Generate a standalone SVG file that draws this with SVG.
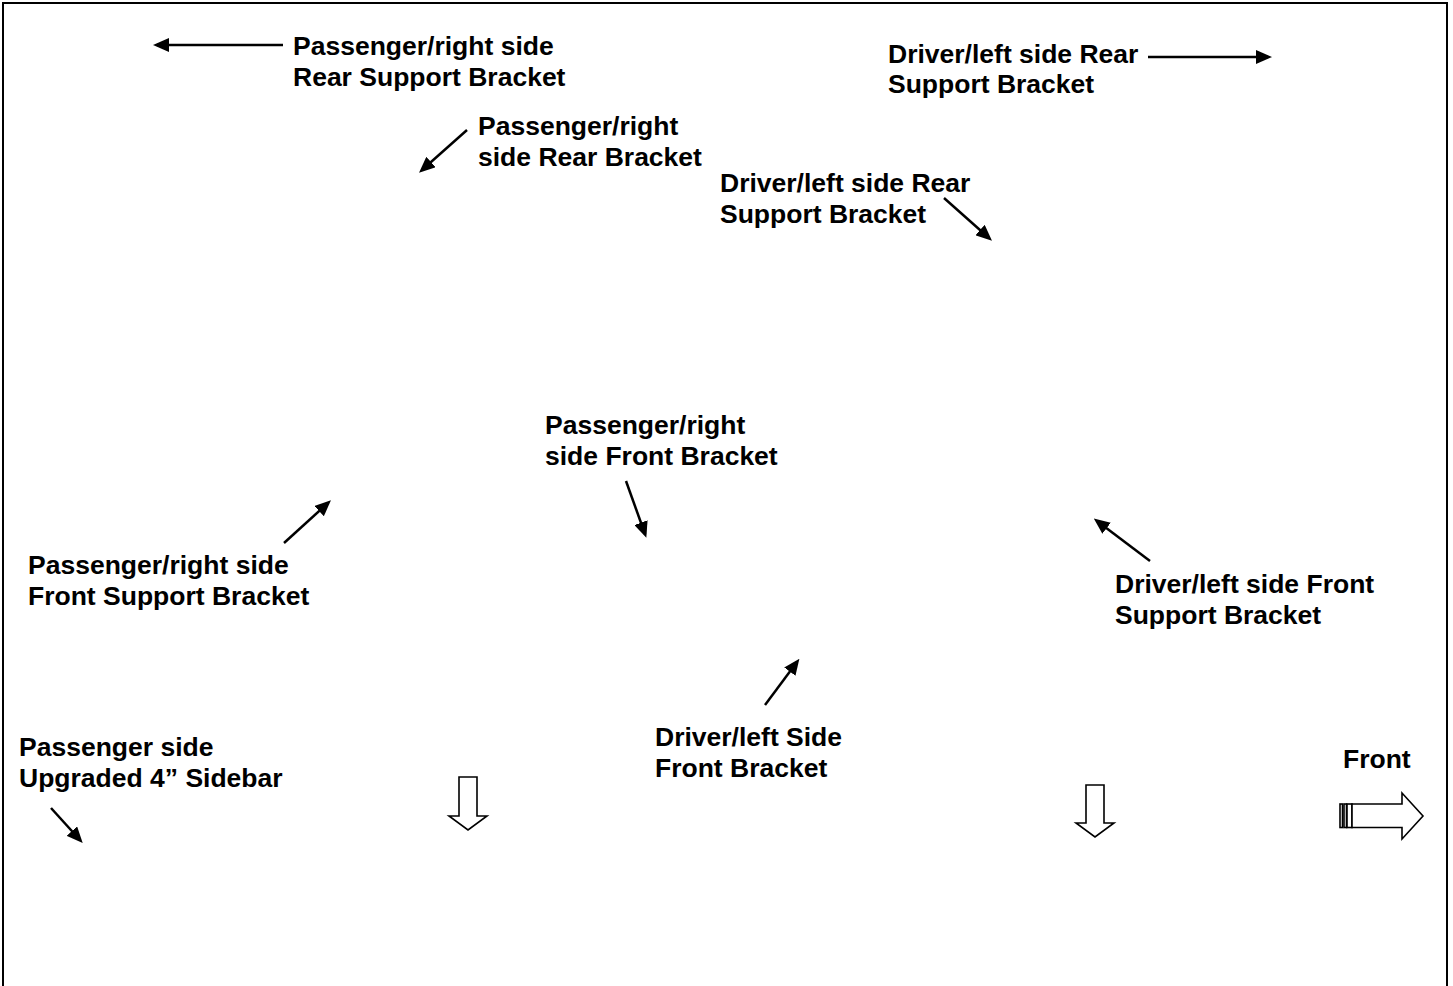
<svg xmlns="http://www.w3.org/2000/svg" width="1453" height="986" viewBox="0 0 1453 986">
<style>
.t{font-family:"Liberation Sans",Arial,sans-serif;font-weight:bold;font-size:26.5px;fill:#000}
.c{stroke:#000;stroke-width:2.5;fill:none;marker-end:url(#ah)}
.b{fill:#fff;stroke:#000;stroke-width:1.6}
</style>
<defs>
<marker id="ah" markerUnits="userSpaceOnUse" viewBox="0 0 16 14" refX="12" refY="7" markerWidth="16" markerHeight="14" orient="auto">
<path d="M0,0 L16,7 L0,14 z" fill="#000"/>
</marker>
</defs>
<rect width="1453" height="986" fill="#fff"/>
<rect x="3" y="3" width="1444" height="1010" fill="none" stroke="#000" stroke-width="2"/>
<g id="n1"><text class="t" x="293" y="55">Passenger/right side</text><text class="t" x="293" y="86">Rear Support Bracket</text></g>
<g id="n2"><text class="t" x="888" y="63">Driver/left side Rear</text><text class="t" x="888" y="93">Support Bracket</text></g>
<g id="n3"><text class="t" x="478" y="135">Passenger/right</text><text class="t" x="478" y="166">side Rear Bracket</text></g>
<g id="n4"><text class="t" x="720" y="192">Driver/left side Rear</text><text class="t" x="720" y="223">Support Bracket</text></g>
<g id="n5"><text class="t" x="545" y="434">Passenger/right</text><text class="t" x="545" y="465">side Front Bracket</text></g>
<g id="n6"><text class="t" x="28" y="574">Passenger/right side</text><text class="t" x="28" y="605">Front Support Bracket</text></g>
<g id="n7"><text class="t" x="1115" y="593">Driver/left side Front</text><text class="t" x="1115" y="624">Support Bracket</text></g>
<g id="n8"><text class="t" x="655" y="746">Driver/left Side</text><text class="t" x="655" y="777">Front Bracket</text></g>
<g id="n9"><text class="t" x="19" y="756">Passenger side</text><text class="t" x="19" y="787">Upgraded 4” Sidebar</text></g>
<g id="n10"><text class="t" x="1343" y="768">Front</text>
<rect class="b" x="1340" y="804" width="2.5" height="23.5"/>
<rect class="b" x="1344" y="804" width="2.5" height="23.5"/>
<rect class="b" x="1347" y="804" width="5" height="23.5"/>
<path class="b" d="M1352,804 L1402,804 L1402,793 L1423,816 L1402,839 L1402,827.5 L1352,827.5 z"/>
</g>
<g id="n11"><path class="b" d="M459,777 L477,777 L477,816 L487,816 L468,830 L449,816 L459,816 z"/></g>
<g id="n12"><path class="b" d="M1086,785 L1104,785 L1104,823 L1114,823 L1095,837 L1076,823 L1086,823 z"/></g>
<g id="connectors">
<line class="c" x1="283" y1="45" x2="157" y2="45"/>
<line class="c" x1="1148" y1="57" x2="1268" y2="57"/>
<line class="c" x1="467" y1="130" x2="422" y2="170"/>
<line class="c" x1="944" y1="198" x2="989" y2="238"/>
<line class="c" x1="626" y1="481" x2="645" y2="534"/>
<line class="c" x1="284" y1="543" x2="328" y2="503"/>
<line class="c" x1="1150" y1="561" x2="1097" y2="521"/>
<line class="c" x1="765" y1="705" x2="797" y2="662"/>
<line class="c" x1="51" y1="808" x2="80" y2="840"/>
</g>
</svg>
